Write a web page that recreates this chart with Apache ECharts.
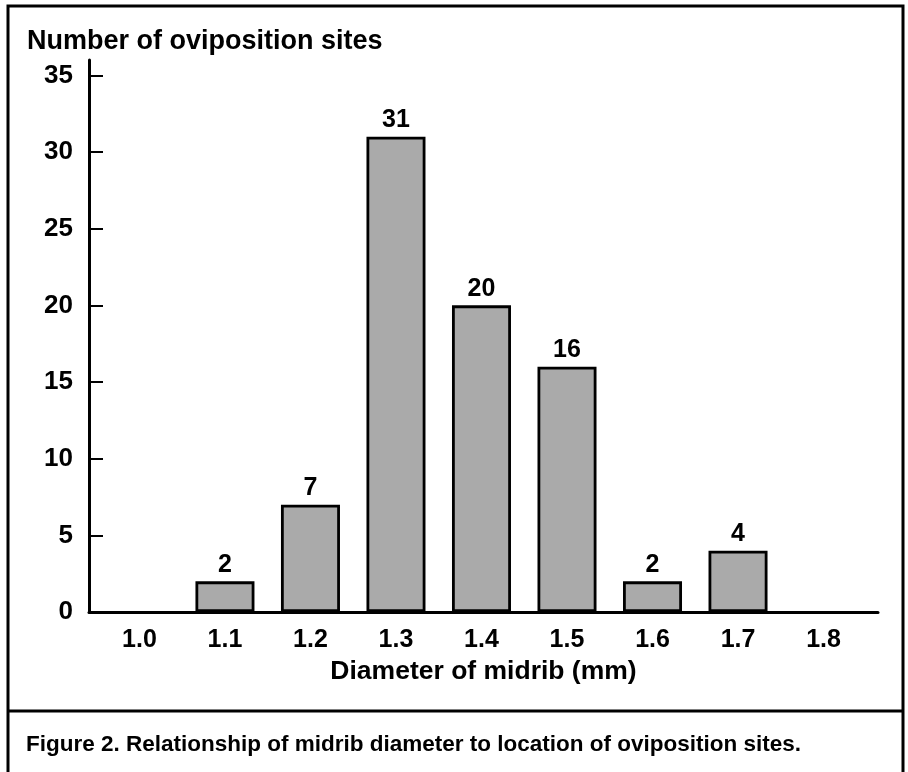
<!DOCTYPE html>
<html>
<head>
<meta charset="utf-8">
<script src="https://cdn.jsdelivr.net/npm/echarts@6/dist/echarts.min.js"></script>
<style>html,body{margin:0;padding:0;background:#fff}#c{width:908px;height:772px}</style>
</head>
<body>
<div id="c"></div>
<script>
var tickLabels = [1.0, 1.1, 1.2, 1.3, 1.4, 1.5, 1.6, 1.7, 1.8];
var diameters = [1.1, 1.2, 1.3, 1.4, 1.5, 1.6, 1.7];
var counts = [2, 7, 31, 20, 16, 2, 4];
var yTicks = [0, 5, 10, 15, 20, 25, 30, 35];
var yTitle = 'Number of oviposition sites';
var xTitle = 'Diameter of midrib (mm)';
var caption = 'Figure 2. Relationship of midrib diameter to location of oviposition sites.';

var FONT = '"Liberation Sans", Arial, Helvetica, sans-serif';
var chart = echarts.init(document.getElementById('c'), null, {renderer: 'canvas'});
chart.setOption({
  animation: false,
  backgroundColor: '#fff',
  title: {
    text: yTitle, left: 22, top: 23,
    textStyle: {fontFamily: FONT, fontWeight: 'bold', fontSize: 27, color: '#000'}
  },
  grid: {left: 89, right: 30, top: 60, bottom: 160},
  xAxis: {
    type: 'value', min: 0.941, max: 1.8637,
    name: xTitle, nameLocation: 'middle', nameGap: 45,
    nameTextStyle: {fontFamily: FONT, fontWeight: 'bold', fontSize: 26.5, color: '#000'},
    axisLine: {show: true, lineStyle: {color: '#000', width: 3}},
    axisTick: {show: false},
    splitLine: {show: false},
    axisLabel: {
      customValues: tickLabels, margin: 16,
      formatter: function (v) { return v.toFixed(1); },
      fontFamily: FONT, fontWeight: 'bold', fontSize: 25, color: '#000'
    }
  },
  yAxis: {
    type: 'value', min: 0, max: 36,
    axisLine: {show: true, lineStyle: {color: '#000', width: 3}},
    axisTick: {show: true, inside: true, length: 14, customValues: yTicks, lineStyle: {color: '#000', width: 2}},
    splitLine: {show: false},
    axisLabel: {
      customValues: yTicks, margin: 16,
      fontFamily: FONT, fontWeight: 'bold', fontSize: 26, color: '#000'
    }
  },
  series: [{
    type: 'bar',
    barWidth: 59,
    data: diameters.map(function (d, i) { return [d, counts[i]]; }),
    itemStyle: {color: '#aaaaaa', borderColor: '#000', borderWidth: 2.8},
    label: {
      show: true, position: 'top', distance: 4,
      formatter: function (p) { return p.value[1]; },
      fontFamily: FONT, fontWeight: 'bold', fontSize: 25, color: '#000'
    }
  }],
  graphic: [
    {type: 'rect', shape: {x: 8, y: 6, width: 895, height: 820}, style: {fill: 'none', stroke: '#000', lineWidth: 3}, silent: true},
    {type: 'line', shape: {x1: 8, y1: 711, x2: 903, y2: 711}, style: {stroke: '#000', lineWidth: 3}, silent: true},
    {type: 'text', x: 26, y: 745, style: {text: caption, fontFamily: FONT, fontWeight: 'bold', fontSize: 22.5, fill: '#000', verticalAlign: 'middle'}, silent: true}
  ]
});
</script>
</body>
</html>
